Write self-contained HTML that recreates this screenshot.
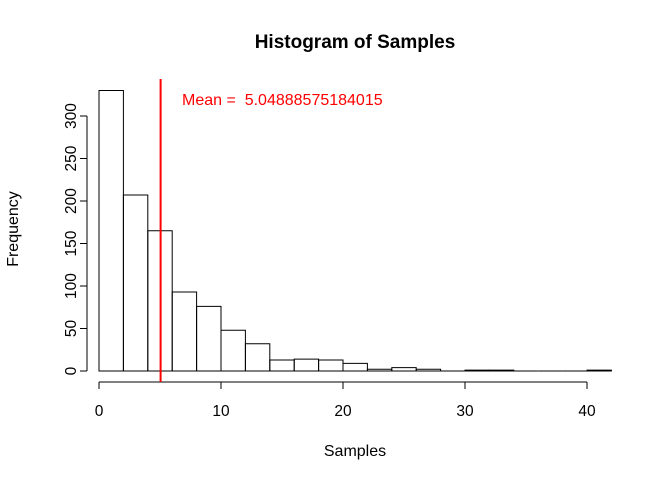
<!DOCTYPE html>
<html><head><meta charset="utf-8"><style>body{margin:0;background:#fff}svg{display:block;font-family:"Liberation Sans",sans-serif}</style></head>
<body>
<svg id="chart" width="672" height="480">
<text x="355" y="48" text-anchor="middle" font-size="19" font-weight="bold">Histogram of Samples</text>
<text x="355" y="456" text-anchor="middle" font-size="16">Samples</text>
<text transform="translate(18,229) rotate(-90)" text-anchor="middle" font-size="16">Frequency</text>
<g id="bars"></g><g id="xaxis"></g><g id="yaxis"></g><g id="meanline"></g>
</svg>
<script>
const binStarts=[0,2,4,6,8,10,12,14,16,18,20,22,24,26,28,30,32,34,36,38,40];
const counts=[330,207,165,93,76,48,32,13,14,13,9,2,4,2,0,1,1,0,0,0,1];
const binWidth=2;
const xTicks=[0,10,20,30,40];
const yTicks=[0,50,100,150,200,250,300];
const meanValue=5.04888575184015;
const NS="http://www.w3.org/2000/svg";
const xS=v=>99+v*12.2, yS=v=>371-v*0.85;
function mk(t,a,p){const e=document.createElementNS(NS,t);for(const k in a)e.setAttribute(k,a[k]);p.appendChild(e);return e;}
const bars=document.getElementById('bars');
binStarts.forEach((b,i)=>{const x0=xS(b),x1=xS(b+binWidth),y0=yS(0),y1=yS(counts[i]);
const r=mk('path',{d:`M${x0},${y0}L${x0},${y1}L${x1},${y1}L${x1},${y0}Z`,fill:'none',stroke:'#000','stroke-width':1},bars);

});
const xa=document.getElementById('xaxis');
mk('line',{x1:xS(xTicks[0]),x2:xS(xTicks[xTicks.length-1]),y1:382,y2:382,stroke:'#000'},xa);
xTicks.forEach(t=>{mk('line',{x1:xS(t),x2:xS(t),y1:382,y2:389,stroke:'#000'},xa);
const tx=mk('text',{x:xS(t),y:416,'text-anchor':'middle','font-size':15.5},xa);tx.textContent=t;

});
const ya=document.getElementById('yaxis');
mk('line',{x1:87,x2:87,y1:yS(yTicks[0]),y2:yS(yTicks[yTicks.length-1]),stroke:'#000'},ya);
yTicks.forEach(t=>{mk('line',{x1:80,x2:87,y1:yS(t),y2:yS(t),stroke:'#000'},ya);
const tx=mk('text',{transform:`translate(76,${yS(t)}) rotate(-90)`,'text-anchor':'middle','font-size':15.5},ya);tx.textContent=t;

});
const ml=document.getElementById('meanline');
const l=mk('line',{x1:xS(meanValue),x2:xS(meanValue),y1:79,y2:382,stroke:'#f00','stroke-width':2},ml);


const mt=mk('text',{x:182,y:105,'font-size':16,fill:'#f00'},ml);mt.textContent='Mean =\u00a0 '+meanValue;


</script>
</body></html>
